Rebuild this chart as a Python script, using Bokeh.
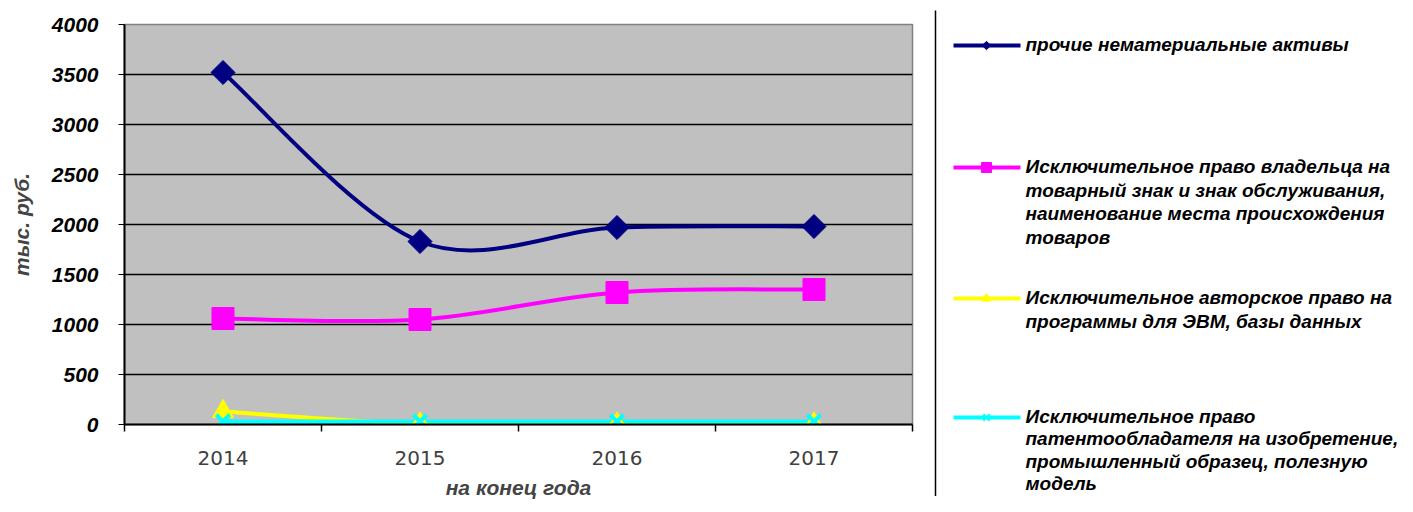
import numpy as np
from bokeh.plotting import figure
from bokeh.layouts import row
from bokeh.models import Range1d, FixedTicker
from bokeh.embed import file_html
from bokeh.resources import INLINE
from bokeh.core.properties import value

# ---------------- data ----------------
years = ["2014", "2015", "2016", "2017"]
other_assets = [3520, 1830, 1970, 1980]
trademark = [1060, 1050, 1320, 1350]
software = [130, 5, 5, 5]
patents = [30, 30, 30, 30]
y_ticks = [0, 500, 1000, 1500, 2000, 2500, 3000, 3500, 4000]

series_labels = [
    ["прочие нематериальные активы"],
    ["Исключительное право владельца на",
     "товарный знак и  знак обслуживания,",
     "наименование места происхождения",
     "товаров"],
    ["Исключительное авторское право на",
     "программы для ЭВМ, базы данных"],
    ["Исключительное право",
     "патентообладателя на изобретение,",
     "промышленный образец, полезную",
     "модель"],
]
series_values = [other_assets, trademark, software, patents]
colors = ["#000080", "#FF00FF", "#FFFF00", "#00FFFF"]
markers = ["square", "square", "triangle", "x"]
angles = [np.pi / 4, 0, 0, 0]
sizes = [17, 22, 21, 19]
legend_sizes = [6, 10, 9, 9]

FONT = "Liberation Sans"

# x positions = category centres
xs = [i + 0.5 for i in range(len(years))]


def smooth_segments(x, y):
    pts = list(zip(x, y))
    n = len(pts)
    out = {k: [] for k in ["x0", "y0", "x1", "y1", "cx0", "cy0", "cx1", "cy1"]}
    for i in range(n - 1):
        pm = pts[i - 1] if i > 0 else pts[i]
        p0 = pts[i]
        p1 = pts[i + 1]
        p2 = pts[i + 2] if i + 2 < n else pts[i + 1]
        out["x0"].append(p0[0]); out["y0"].append(p0[1])
        out["x1"].append(p1[0]); out["y1"].append(p1[1])
        out["cx0"].append(p0[0] + (p1[0] - pm[0]) / 6)
        out["cy0"].append(p0[1] + (p1[1] - pm[1]) / 6)
        out["cx1"].append(p1[0] - (p2[0] - p0[0]) / 6)
        out["cy1"].append(p1[1] - (p2[1] - p0[1]) / 6)
    return out


# ---------------- main chart ----------------
p = figure(frame_width=788, frame_height=400,
           x_range=Range1d(0, len(years)), y_range=Range1d(0, 4000),
           output_backend="svg", toolbar_location=None,
           min_border_left=124, min_border_top=24, min_border_right=16,
           min_border_bottom=72)
p.frame_align = False
p.background_fill_color = "#C0C0C0"
p.border_fill_color = "white"
p.outline_line_color = "#808080"
p.outline_line_width = 1.5

p.xgrid.visible = False
p.ygrid.ticker = FixedTicker(ticks=y_ticks)
p.ygrid.grid_line_color = "black"
p.ygrid.grid_line_width = 1.5

# y axis
p.yaxis.ticker = FixedTicker(ticks=y_ticks)
p.yaxis.axis_line_color = "black"
p.yaxis.axis_line_width = 2
p.yaxis.major_tick_out = 6
p.yaxis.major_tick_in = 0
p.yaxis.minor_tick_out = 0
p.yaxis.minor_tick_in = 0
p.yaxis.major_label_standoff = 20
p.yaxis.major_label_text_font = FONT
p.yaxis.major_label_text_font_style = "bold italic"
p.yaxis.major_label_text_font_size = "21px"
p.yaxis.major_label_text_color = "black"
p.yaxis.axis_label = "тыс. руб."
p.yaxis.axis_label_text_font = FONT
p.yaxis.axis_label_text_font_style = "bold italic"
p.yaxis.axis_label_text_font_size = "21px"
p.yaxis.axis_label_standoff = 16

# x axis
p.xaxis.ticker = FixedTicker(ticks=xs, minor_ticks=list(range(len(years) + 1)))
p.xaxis.major_label_overrides = {x: yr for x, yr in zip(xs, years)}
p.xaxis.axis_line_color = "black"
p.xaxis.axis_line_width = 2
p.xaxis.major_tick_out = 0
p.xaxis.major_tick_in = 0
p.xaxis.minor_tick_out = 7
p.xaxis.minor_tick_in = 0
p.xaxis.minor_tick_line_color = "black"
p.xaxis.minor_tick_line_width = 1.5
p.xaxis.major_label_standoff = 19
p.xaxis.major_label_text_font = "DejaVu Sans"
p.xaxis.major_label_text_font_size = "20px"
p.xaxis.major_label_text_color = "#404040"
p.xaxis.axis_label = "на конец года"
p.xaxis.axis_label_text_font = FONT
p.xaxis.axis_label_text_font_style = "bold italic"
p.xaxis.axis_label_text_font_size = "21px"
p.xaxis.axis_label_standoff = 8

for vals, col in zip(series_values, colors):
    seg = smooth_segments(xs, vals)
    p.bezier(line_color=col, line_width=4, line_cap="round", **seg)
for vals, col, mk, ang, sz in zip(series_values, colors, markers, angles, sizes):
    if mk == "x":
        p.scatter(xs, vals, marker=mk, size=sz, line_color=col, line_width=4)
    else:
        p.scatter(xs, vals, marker=mk, size=sz, angle=ang,
                  fill_color=col, line_color=col, line_width=1)

# ---------------- legend panel ----------------
LW, LH = 469, 496
leg = figure(width=LW, height=LH, x_range=Range1d(0, LW), y_range=Range1d(LH, 0),
             output_backend="svg", toolbar_location=None,
             x_axis_location=None, y_axis_location=None, min_border=0)
leg.frame_align = False
leg.xgrid.visible = False
leg.ygrid.visible = False
leg.outline_line_color = None
leg.background_fill_color = "white"
leg.border_fill_color = "white"

leg.segment(x0=[7], y0=[10], x1=[7], y1=[LH], line_color="black", line_width=1.5)

item_tops = [44, 166, 297, 416]
line_gaps = [23.7, 23.7, 23.7, 22.3]
for lines, col, mk, ang, sz, top, gap in zip(series_labels, colors, markers, angles,
                                             legend_sizes, item_tops, line_gaps):
    ly = top + 1
    leg.segment(x0=[25], y0=[ly], x1=[92], y1=[ly], line_color=col, line_width=4)
    if mk == "x":
        leg.scatter([58], [ly], marker=mk, size=sz, line_color=col, line_width=2)
    else:
        leg.scatter([58], [ly], marker=mk, size=sz, angle=ang,
                    fill_color=col, line_color=col)
    leg.text(x=[97] * len(lines), y=[top + k * gap for k in range(len(lines))],
             text=lines, text_font=value(FONT), text_font_style="bold italic",
             text_font_size="19px", text_baseline="middle", text_align="left",
             text_color="black")

layout = row(p, leg)
open("out.html", "w").write(file_html(layout, INLINE))
